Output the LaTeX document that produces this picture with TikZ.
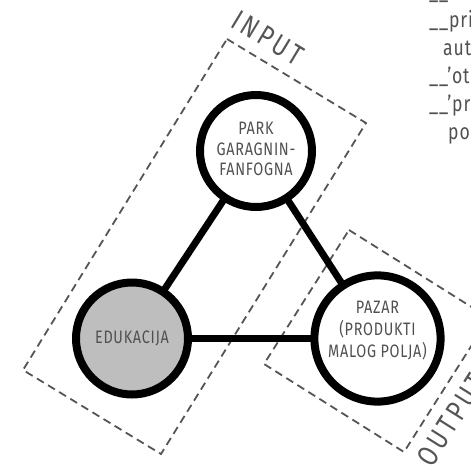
\documentclass[tikz,border=0pt]{standalone}
\usepackage{fontspec}
\setmainfont{Fira Sans}[FakeStretch=0.8, LetterSpace=4]
\usepackage{xcolor}
\usepackage{tikz}
\usetikzlibrary{positioning}
\definecolor{ZoneGray}{RGB}{85, 85, 85}
\definecolor{TextGray}{RGB}{80, 80, 80}
\definecolor{HubGray}{RGB}{190, 190, 190}
\newcommand{\hubstack}[1]{\begin{tabular}{@{}c@{}}#1\end{tabular}}

\begin{document}
\begin{tikzpicture}[x=1pt, y=-1pt,
    hub/.style={circle, draw=black, line width=8pt, fill=white, minimum size=112pt, inner sep=0pt,
        text=TextGray, font=\fontsize{18}{20.5}\selectfont},
    link/.style={line width=7pt, shorten <=-3pt, shorten >=-3pt},
    zone/.style={draw=ZoneGray, line width=1.8pt, dash pattern=on 8pt off 5pt},
    zonelabel/.style={text=ZoneGray, inner sep=0pt, font=\fontsize{29}{29}\selectfont\addfontfeature{LetterSpace=12}},
    notetext/.style={text=TextGray, inner sep=0pt, anchor=base west, font=\fontsize{22}{28}\selectfont}]
    \useasboundingbox (0,0) rectangle (471,469);
    \clip (0,0) rectangle (471,469);

    % zone frames
    \draw[zone] (227,39) -- (366,123) -- (161,454) -- (23,370) -- cycle;
    \draw[zone] (349,230) -- (489,318) -- (404,452) -- (264,364) -- cycle;
    \node[zonelabel, rotate=-31.1] (input) at (268,38) {INPUT};
    \node[zonelabel, rotate=57.8] (output) at (451,420) {OUTPUT};

    % hubs
    \node[hub] (park) at (256,151) {\hubstack{PARK\\GARAGNIN-\\FANFOGNA}};
    \node[hub, fill=HubGray] (edukacija) at (132,338.5) {EDUKACIJA};
    \node[hub] (pazar) at (377.5,338.5) {\raisebox{0pt}[\height][\dimexpr\depth+14pt\relax]{%
        \hubstack{PAZAR\\(PRODUKTI\\\setlength{\fboxsep}{0.5pt}\colorbox{white}{MALOG POLJA)}}}};

    % links
    \draw[link] (park) -- (edukacija);
    \draw[link] (park) -- (pazar);
    \draw[link] (edukacija) -- (pazar);

    % cut-off note on the right
    \foreach \y/\txt [count=\i] in {-1/\_\_, 27/\_\_pri, 55/\hspace*{14pt}aut,
        83/\_\_'ot, 111/\_\_'pr, 139/\hspace*{19pt}po}
        \node[notetext] (note\i) at (429,\y) {\txt};
\end{tikzpicture}
\end{document}
